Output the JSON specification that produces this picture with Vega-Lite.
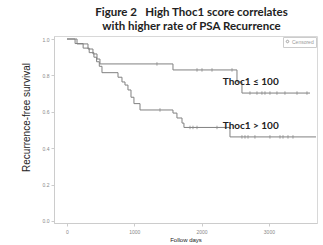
{
  "$schema": "https://vega.github.io/schema/vega-lite/v6.json",
  "width": 263,
  "height": 187,
  "autosize": {"type": "none"},
  "padding": {"left": 54, "top": 36, "right": 6, "bottom": 22},
  "background": "white",
  "title": {
    "text": ["Figure 2\u00a0\u00a0\u00a0High Thoc1 score correlates", "with higher rate of PSA Recurrence"],
    "font": "Lato",
    "fontSize": 11.5,
    "fontWeight": "bold",
    "color": "#222222",
    "anchor": "middle",
    "dx": 6,
    "offset": 4,
    "lineHeight": 13.5
  },
  "config": {
    "view": {"stroke": "#d8d8d8", "strokeWidth": 1},
    "axis": {
      "grid": false,
      "domainColor": "#cccccc",
      "tickColor": "#cccccc",
      "tickSize": 3,
      "labelFontSize": 5,
      "labelColor": "#888888",
      "labelOverlap": false,
      "labelFont": "Liberation Sans",
      "titleFont": "Liberation Sans",
      "titleFontWeight": "normal",
      "titleColor": "#222222"
    }
  },
  "datasets": {
    "curves": [
      {"group": "Thoc1 ≤ 100", "day": 0, "surv": 1.0},
      {"group": "Thoc1 ≤ 100", "day": 149, "surv": 0.973},
      {"group": "Thoc1 ≤ 100", "day": 312, "surv": 0.945},
      {"group": "Thoc1 ≤ 100", "day": 386, "surv": 0.918},
      {"group": "Thoc1 ≤ 100", "day": 446, "surv": 0.89},
      {"group": "Thoc1 ≤ 100", "day": 490, "surv": 0.863},
      {"group": "Thoc1 ≤ 100", "day": 1575, "surv": 0.83},
      {"group": "Thoc1 ≤ 100", "day": 2526, "surv": 0.764},
      {"group": "Thoc1 ≤ 100", "day": 2600, "surv": 0.703},
      {"group": "Thoc1 ≤ 100", "day": 3611, "surv": 0.703},
      {"group": "Thoc1 > 100", "day": 0, "surv": 1.0},
      {"group": "Thoc1 > 100", "day": 120, "surv": 0.975},
      {"group": "Thoc1 > 100", "day": 240, "surv": 0.95},
      {"group": "Thoc1 > 100", "day": 330, "surv": 0.925},
      {"group": "Thoc1 > 100", "day": 400, "surv": 0.9},
      {"group": "Thoc1 > 100", "day": 440, "surv": 0.875},
      {"group": "Thoc1 > 100", "day": 480, "surv": 0.85},
      {"group": "Thoc1 > 100", "day": 520, "surv": 0.815},
      {"group": "Thoc1 > 100", "day": 758, "surv": 0.79},
      {"group": "Thoc1 > 100", "day": 817, "surv": 0.764},
      {"group": "Thoc1 > 100", "day": 862, "surv": 0.747},
      {"group": "Thoc1 > 100", "day": 906, "surv": 0.72},
      {"group": "Thoc1 > 100", "day": 951, "surv": 0.68},
      {"group": "Thoc1 > 100", "day": 995, "surv": 0.645},
      {"group": "Thoc1 > 100", "day": 1085, "surv": 0.61},
      {"group": "Thoc1 > 100", "day": 1575, "surv": 0.593},
      {"group": "Thoc1 > 100", "day": 1634, "surv": 0.566},
      {"group": "Thoc1 > 100", "day": 1709, "surv": 0.538},
      {"group": "Thoc1 > 100", "day": 1738, "surv": 0.514},
      {"group": "Thoc1 > 100", "day": 2422, "surv": 0.462},
      {"group": "Thoc1 > 100", "day": 3700, "surv": 0.462}
    ],
    "censored": [
      {"day": 1337, "surv": 0.863},
      {"day": 1932, "surv": 0.83},
      {"day": 2006, "surv": 0.83},
      {"day": 2155, "surv": 0.83},
      {"day": 2452, "surv": 0.83},
      {"day": 2719, "surv": 0.703},
      {"day": 2823, "surv": 0.703},
      {"day": 2897, "surv": 0.703},
      {"day": 2942, "surv": 0.703},
      {"day": 3016, "surv": 0.703},
      {"day": 3120, "surv": 0.703},
      {"day": 3239, "surv": 0.703},
      {"day": 3418, "surv": 0.703},
      {"day": 3566, "surv": 0.703},
      {"day": 1382, "surv": 0.61},
      {"day": 1828, "surv": 0.514},
      {"day": 1872, "surv": 0.514},
      {"day": 1932, "surv": 0.514},
      {"day": 2229, "surv": 0.514},
      {"day": 2600, "surv": 0.462},
      {"day": 2645, "surv": 0.462},
      {"day": 2690, "surv": 0.462},
      {"day": 2793, "surv": 0.462},
      {"day": 3016, "surv": 0.462},
      {"day": 3165, "surv": 0.462},
      {"day": 3210, "surv": 0.462},
      {"day": 3284, "surv": 0.462},
      {"day": 3358, "surv": 0.462}
    ],
    "labels": [
      {"day": 2730, "surv": 0.765, "label": "Thoc1 ≤ 100"},
      {"day": 2730, "surv": 0.522, "label": "Thoc1 > 100"}
    ]
  },
  "encoding": {
    "x": {
      "field": "day", "type": "quantitative",
      "scale": {"domain": [-193, 3715], "nice": false, "zero": false},
      "axis": {"values": [0, 1000, 2000, 3000], "format": "d", "labelOverlap": false, "title": "Follow days", "titleFontSize": 6, "titlePadding": 2, "labelPadding": 3}
    },
    "y": {
      "field": "surv", "type": "quantitative",
      "scale": {"domain": [-0.011, 1.0165], "nice": false, "zero": false},
      "axis": {"values": [0, 0.2, 0.4, 0.6, 0.8, 1], "format": ".1f", "labelOverlap": false, "title": "Recurrence-free survival", "titleFontSize": 10, "titlePadding": 11, "titleY": 81, "labelPadding": 2}
    }
  },
  "layer": [
    {
      "data": {"name": "curves"},
      "mark": {"type": "line", "interpolate": "step-after", "color": "#808080", "strokeWidth": 1},
      "encoding": {
        "detail": {"field": "group"}
      }
    },
    {
      "data": {"name": "censored"},
      "mark": {"type": "point", "shape": "M0,-1V1", "filled": false, "strokeWidth": 0.8, "size": 12, "opacity": 1},
      "encoding": {
        "color": {
          "datum": "Censored",
          "scale": {"range": ["#8a8a8a"]},
          "legend": {"orient": "top-right", "title": null, "offset": 1, "padding": 2, "strokeColor": "#cccccc", "labelFontSize": 5, "labelColor": "#999999", "symbolType": "cross", "symbolSize": 8, "symbolStrokeWidth": 0.5, "rowPadding": 0, "labelOffset": 2}
        }
      }
    },
    {
      "data": {"name": "labels"},
      "mark": {"type": "text", "font": "Lato", "fontWeight": "bold", "fontSize": 10, "color": "#222222", "align": "center", "baseline": "middle"},
      "encoding": {
        "text": {"field": "label"}
      }
    }
  ]
}
